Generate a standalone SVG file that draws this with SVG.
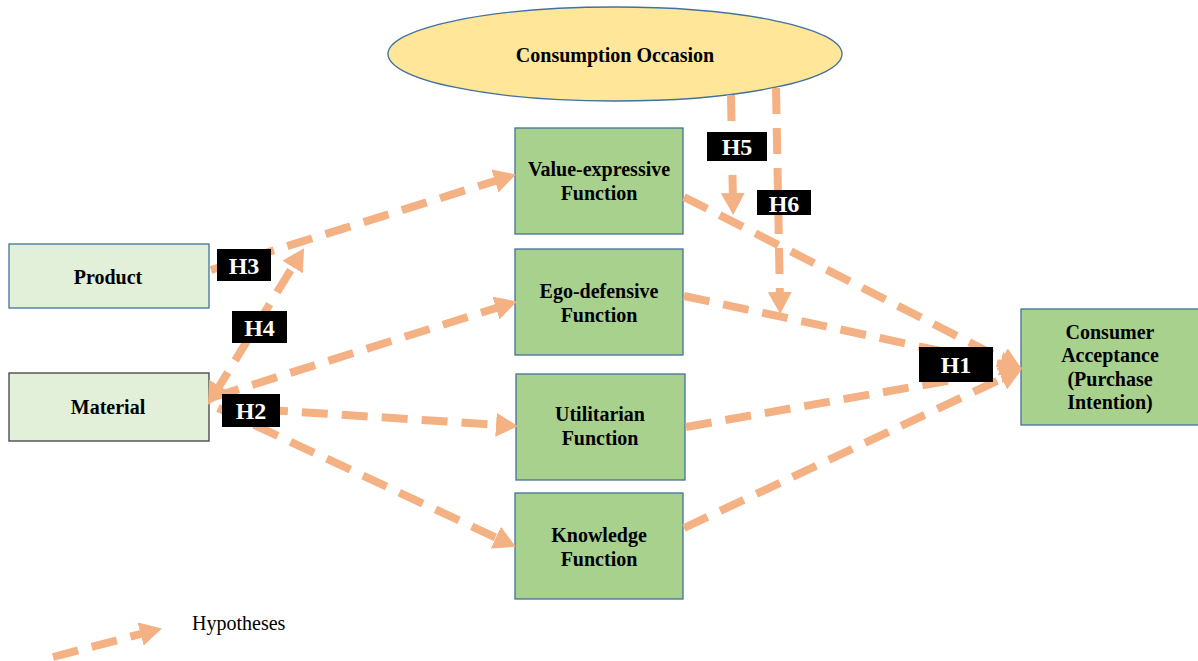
<svg xmlns="http://www.w3.org/2000/svg" width="1198" height="661" viewBox="0 0 1198 661">
<style>
.box{fill:#A9D18E;stroke:#41719C;stroke-width:1.3}
.lbox{fill:#E2F0D9;stroke:#41719C;stroke-width:1.3}
.t{font-family:'Liberation Serif','DejaVu Serif',serif;font-weight:bold;font-size:20px;fill:#000;text-anchor:middle}
.h{font-family:'Liberation Serif','DejaVu Serif',serif;font-weight:bold;font-size:24px;fill:#fff;text-anchor:middle}
.lg{font-family:'Liberation Serif','DejaVu Serif',serif;font-size:20px;fill:#000}
.hb{fill:#000}
.c{fill:none;stroke:#F4B183;stroke-width:8;stroke-dasharray:26 14;marker-end:url(#ah)}
</style>
<defs>
<marker id="ah" markerUnits="userSpaceOnUse" markerWidth="22" markerHeight="24" refX="10" refY="12" orient="auto-start-reverse" viewBox="0 0 22 24">
<path d="M0,0 L22,12 L0,24 z" fill="#F4B183"/>
</marker>
</defs>
<rect width="1198" height="661" fill="#fff"/>

<g id="consumption-occasion">
<ellipse cx="615" cy="54" rx="227" ry="47" fill="#FFE699" stroke="#41719C" stroke-width="1.3"/>
<text class="t" x="615" y="62">Consumption Occasion</text>
</g>
<g id="value-expressive">
<rect class="box" x="515" y="128" width="168" height="106"/>
<text class="t" x="599" y="176">Value-expressive</text>
<text class="t" x="599" y="200">Function</text>
</g>
<g id="ego-defensive">
<rect class="box" x="515" y="249" width="168" height="106"/>
<text class="t" x="599" y="298">Ego-defensive</text>
<text class="t" x="599" y="322">Function</text>
</g>
<g id="utilitarian">
<rect class="box" x="516" y="374" width="169" height="106"/>
<text class="t" x="600" y="421">Utilitarian</text>
<text class="t" x="600" y="445">Function</text>
</g>
<g id="knowledge">
<rect class="box" x="515" y="493" width="168" height="106"/>
<text class="t" x="599" y="542">Knowledge</text>
<text class="t" x="599" y="566">Function</text>
</g>
<g id="product">
<rect class="lbox" x="9" y="244" width="200" height="64"/>
<text class="t" x="108" y="284">Product</text>
</g>
<g id="material">
<rect class="lbox" x="9" y="373" width="200" height="68" style="stroke:#404040"/>
<text class="t" x="108" y="414">Material</text>
</g>
<g id="consumer-acceptance">
<rect class="box" x="1021" y="309" width="180" height="116"/>
<text class="t" x="1110" y="339">Consumer</text>
<text class="t" x="1110" y="362">Acceptance</text>
<text class="t" x="1110" y="386">(Purchase</text>
<text class="t" x="1110" y="409">Intention)</text>
</g>

<g id="connectors">
<line class="c" x1="211" y1="270" x2="504.5" y2="178"/>
<line class="c" x1="214.2" y1="394.5" x2="297.8" y2="258.5" style="marker-start:url(#ah)"/>
<line class="c" x1="214" y1="397" x2="505.5" y2="305"/>
<line class="c" x1="222" y1="407" x2="506" y2="425.4"/>
<line class="c" x1="218" y1="408" x2="504.9" y2="541.8"/>
<line class="c" x1="684" y1="197" x2="1011.1" y2="363.5"/>
<line class="c" x1="684" y1="296" x2="1010.2" y2="365.9"/>
<line class="c" x1="686" y1="427" x2="1010.2" y2="369.7"/>
<line class="c" x1="684" y1="528" x2="1011" y2="374.3"/>
<line class="c" x1="731" y1="95" x2="733" y2="203"/>
<line class="c" x1="776" y1="88" x2="780" y2="302"/>
<line class="c" x1="53" y1="657" x2="150.3" y2="631.5"/>
</g>

<g id="labels">
<g id="H3"><rect class="hb" x="217" y="249" width="54" height="32"/><text class="h" x="244" y="274">H3</text></g>
<g id="H4"><rect class="hb" x="232" y="311" width="55" height="32"/><text class="h" x="259.5" y="336">H4</text></g>
<g id="H2"><rect class="hb" x="222" y="394" width="58" height="33"/><text class="h" x="251" y="419">H2</text></g>
<g id="H5"><rect class="hb" x="707" y="132" width="60" height="29"/><text class="h" x="737" y="155">H5</text></g>
<g id="H6"><rect class="hb" x="757" y="190" width="54" height="25"/><text class="h" x="784" y="212">H6</text></g>
<g id="H1"><rect class="hb" x="919" y="347" width="74" height="35"/><text class="h" x="956" y="373">H1</text></g>
</g>

<text class="lg" x="192" y="630">Hypotheses</text>
</svg>
